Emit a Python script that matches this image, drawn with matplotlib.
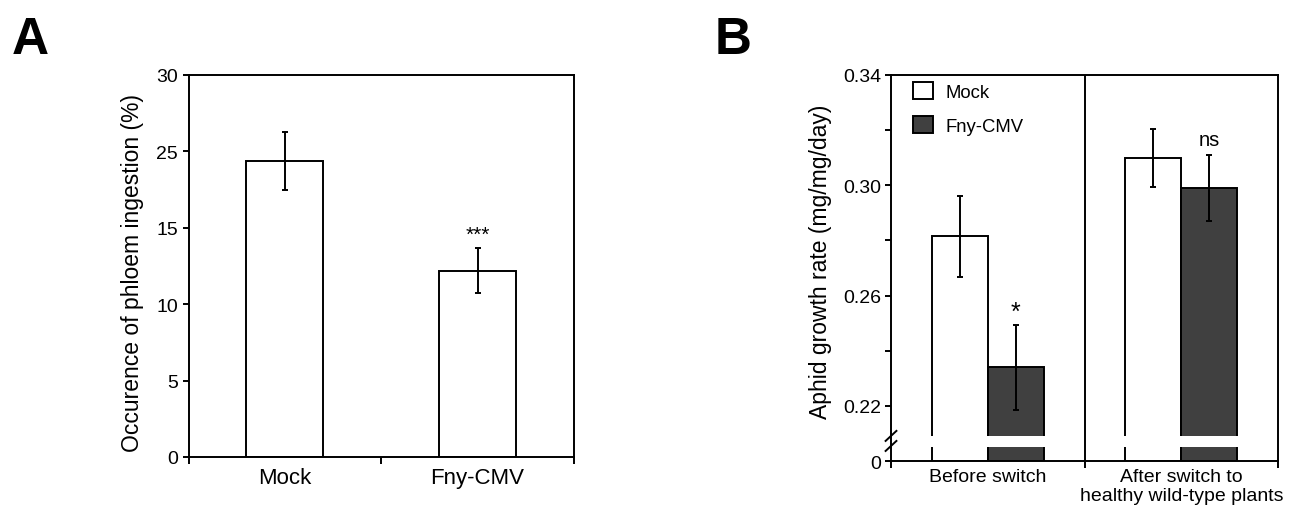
import matplotlib.pyplot as plt
from matplotlib.patches import Patch

plt.rcParams['font.family'] = ['Liberation Sans', 'DejaVu Sans']

# panel A: phloem ingestion (tick labels as printed in the figure)
a_groups = ['Mock', 'Fny-CMV']
a_values = [19.4, 12.2]
a_errors = [1.9, 1.5]
a_marks = ['', '***']
a_tick_pos = [0, 5, 10, 15, 20, 25]
a_tick_labels = ['0', '5', '10', '15', '25', '30']

# panel B: aphid growth rate
b_phases = ['Before switch', 'After switch to\nhealthy wild-type plants']
b_mock = [0.2815, 0.310]
b_mock_err = [0.0147, 0.0105]
b_fny = [0.234, 0.299]
b_fny_err = [0.0155, 0.012]
b_marks = ['*', 'ns']
b_ticks = [0.20, 0.22, 0.26, 0.30, 0.34]
b_tick_labels = ['0', '0.22', '0.26', '0.30', '0.34']
b_minor = [0.24, 0.28, 0.32]

DARK = '#404040'
LW = 1.4

fig = plt.figure(figsize=(12.93, 5.10), dpi=100)


def style_spines(ax):
    for s in ax.spines.values():
        s.set_linewidth(LW)
    ax.tick_params(which='both', direction='out', width=LW, color='black')


# ---------------- panel A ----------------
ax = fig.add_axes([0.1459, 0.102, 0.2979, 0.749])
xa = list(range(len(a_groups)))
ax.bar(xa, a_values, width=0.4, color='white', edgecolor='black', linewidth=LW, zorder=2)
ax.errorbar(xa, a_values, yerr=a_errors, fmt='none', ecolor='black',
            elinewidth=LW, capsize=2.5, capthick=LW, zorder=3)
for x, v, e, m in zip(xa, a_values, a_errors, a_marks):
    ax.text(x, v + e + 0.25, m, ha='center', va='bottom', fontsize=15)
ax.set_xlim(-0.5, 1.5)
ax.set_ylim(0, 25)
ax.set_yticks(a_tick_pos)
ax.set_yticklabels(a_tick_labels)
ax.set_xticks([-0.5, 0.5, 1.5])
ax.set_xticklabels([])
ax.set_xticks(xa, minor=True)
ax.set_xticklabels(a_groups, minor=True)
style_spines(ax)
ax.tick_params(axis='y', labelsize=14, length=4)
ax.tick_params(axis='x', which='major', length=5)
ax.tick_params(axis='x', which='minor', length=0, labelsize=16, pad=7)
ax.set_ylabel('Occurence of phloem ingestion (%)', fontsize=16.5, labelpad=9)
ax.yaxis.label.set_y(0.484)
fig.text(0.009, 0.895, 'A', fontsize=37, fontweight='bold')

# ---------------- panel B ----------------
bx = fig.add_axes([0.6891, 0.0941, 0.2993, 0.757])
xb = list(range(len(b_phases)))
w = 0.29
base = b_ticks[0]
pos_mock = [x - w / 2 for x in xb]
pos_fny = [x + w / 2 for x in xb]
bx.bar(pos_mock, [v - base for v in b_mock], bottom=base, width=w,
       color='white', edgecolor='black', linewidth=LW, zorder=2)
bx.bar(pos_fny, [v - base for v in b_fny], bottom=base, width=w,
       color=DARK, edgecolor='black', linewidth=LW, zorder=2)
bx.errorbar(pos_mock, b_mock, yerr=b_mock_err, fmt='none', ecolor='black',
            elinewidth=LW, capsize=2.5, capthick=LW, zorder=3)
bx.errorbar(pos_fny, b_fny, yerr=b_fny_err, fmt='none', ecolor='black',
            elinewidth=LW, capsize=2.5, capthick=LW, zorder=3)
for x, v, e, m in zip(pos_fny, b_fny, b_fny_err, b_marks):
    bx.text(x, v + e + (0.0004 if m == '*' else 0.0022), m, ha='center', va='bottom',
            fontsize=18 if m == '*' else 14.5)

# axis break: white band through the bars
gap_lo, gap_hi = 0.2051, 0.2090
bx.bar(pos_mock + pos_fny, [gap_hi - gap_lo] * 4, bottom=gap_lo, width=w + 0.02,
       color='white', edgecolor='none', zorder=2.5)
for yb in (0.039, 0.065):
    bx.plot([-0.014, 0.014], [yb - 0.013, yb + 0.013], transform=bx.transAxes,
            color='black', lw=LW, clip_on=False, zorder=5)

bx.axvline(0.5, color='black', lw=LW, zorder=1)
bx.set_xlim(-0.5, 1.5)
bx.set_ylim(0.20, 0.34)
bx.set_yticks(b_ticks)
bx.set_yticklabels(b_tick_labels)
bx.set_yticks(b_minor, minor=True)
bx.set_xticks([-0.5, 0.5, 1.5])
bx.set_xticklabels([])
bx.set_xticks(xb, minor=True)
bx.set_xticklabels(b_phases, minor=True, linespacing=1.15)
style_spines(bx)
bx.tick_params(axis='y', which='both', labelsize=14, length=4, pad=3)
bx.tick_params(axis='x', which='major', length=5)
bx.tick_params(axis='x', which='minor', length=0, labelsize=14, pad=5)
bx.set_ylabel('Aphid growth rate (mg/mg/day)', fontsize=16.5, labelpad=8)
bx.yaxis.label.set_y(0.518)

handles = [Patch(facecolor='white', edgecolor='black', linewidth=LW, label='Mock'),
           Patch(facecolor=DARK, edgecolor='black', linewidth=LW, label='Fny-CMV')]
bx.legend(handles=handles, loc='upper left', bbox_to_anchor=(0.037, 1.0),
          borderaxespad=0, frameon=False, fontsize=13.3, handlelength=1.1,
          handleheight=1.05, handletextpad=0.65, labelspacing=0.82)
fig.text(0.553, 0.895, 'B', fontsize=37, fontweight='bold')

fig.savefig('out.png', dpi=100)
